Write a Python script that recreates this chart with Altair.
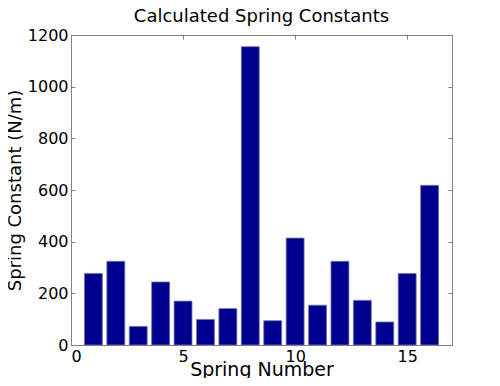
import altair as alt
import pandas as pd

springs = list(range(1, 17))
constants = [277, 324, 72, 244, 170, 99, 141, 1155, 94, 414, 154, 324, 173, 89, 277, 618]

df = pd.DataFrame({"spring": springs, "k": constants})

FONT = "DejaVu Sans"
GRAY = "#808080"

xscale = alt.Scale(domain=[0, 17], nice=False, zero=False)
yscale = alt.Scale(domain=[0, 1200], nice=False)

base = alt.Chart(df).transform_calculate(
    lo="datum.spring - 0.4", hi="datum.spring + 0.4"
)

bars = base.mark_bar(color="#00008F", stroke="#7676a8", strokeWidth=0.8).encode(
    x=alt.X("lo:Q", scale=xscale,
            axis=alt.Axis(values=[0, 5, 10, 15], format="d", orient="bottom",
                          offset=-4, tickSize=4, labelPadding=3, domain=False,
                          title="Spring Number", titleY=34, titleFontSize=19,
                          titleBaseline="alphabetic", grid=False)),
    x2="hi:Q",
    y=alt.Y("k:Q", scale=yscale,
            axis=alt.Axis(values=[0, 200, 400, 600, 800, 1000, 1200], format="d",
                          orient="left",
                          offset=-4, tickSize=4, labelPadding=3, domain=False,
                          title="Spring Constant (N/m)", titleX=-55, titleFontSize=18,
                          titleBaseline="alphabetic", grid=False)),
    y2=alt.datum(0),
)

frame = base.mark_bar(opacity=0).encode(
    x=alt.X("lo:Q", scale=xscale,
            axis=alt.Axis(values=[0, 5, 10, 15], orient="top", offset=-4, tickSize=4,
                          labels=False, domain=False, title=None, grid=False)),
    x2="hi:Q",
    y=alt.Y("k:Q", scale=yscale,
            axis=alt.Axis(values=[0, 200, 400, 600, 800, 1000, 1200], orient="right",
                          offset=-4, tickSize=4, labels=False, domain=False,
                          title=None, grid=False)),
    y2=alt.datum(0),
)

chart = alt.layer(bars, frame).resolve_axis(x="independent", y="independent").properties(
    width=381,
    height=310,
    autosize=alt.AutoSizeParams(type="none"),
    padding={"left": 63, "top": 27, "right": 30, "bottom": 33},
    title=alt.TitleParams("Calculated Spring Constants", font=FONT, fontSize=18,
                          fontWeight="normal", color="black",
                          offset=1, frame="group", anchor="middle"),
).configure_view(stroke=GRAY, strokeWidth=1).configure_axis(
    labelFont=FONT, labelFontSize=16, labelColor="black",
    titleFont=FONT, titleFontWeight="normal", titleColor="black",
    tickColor=GRAY, tickWidth=1,
)

chart.save("out.html", embed_options={"renderer": "svg", "actions": False})
